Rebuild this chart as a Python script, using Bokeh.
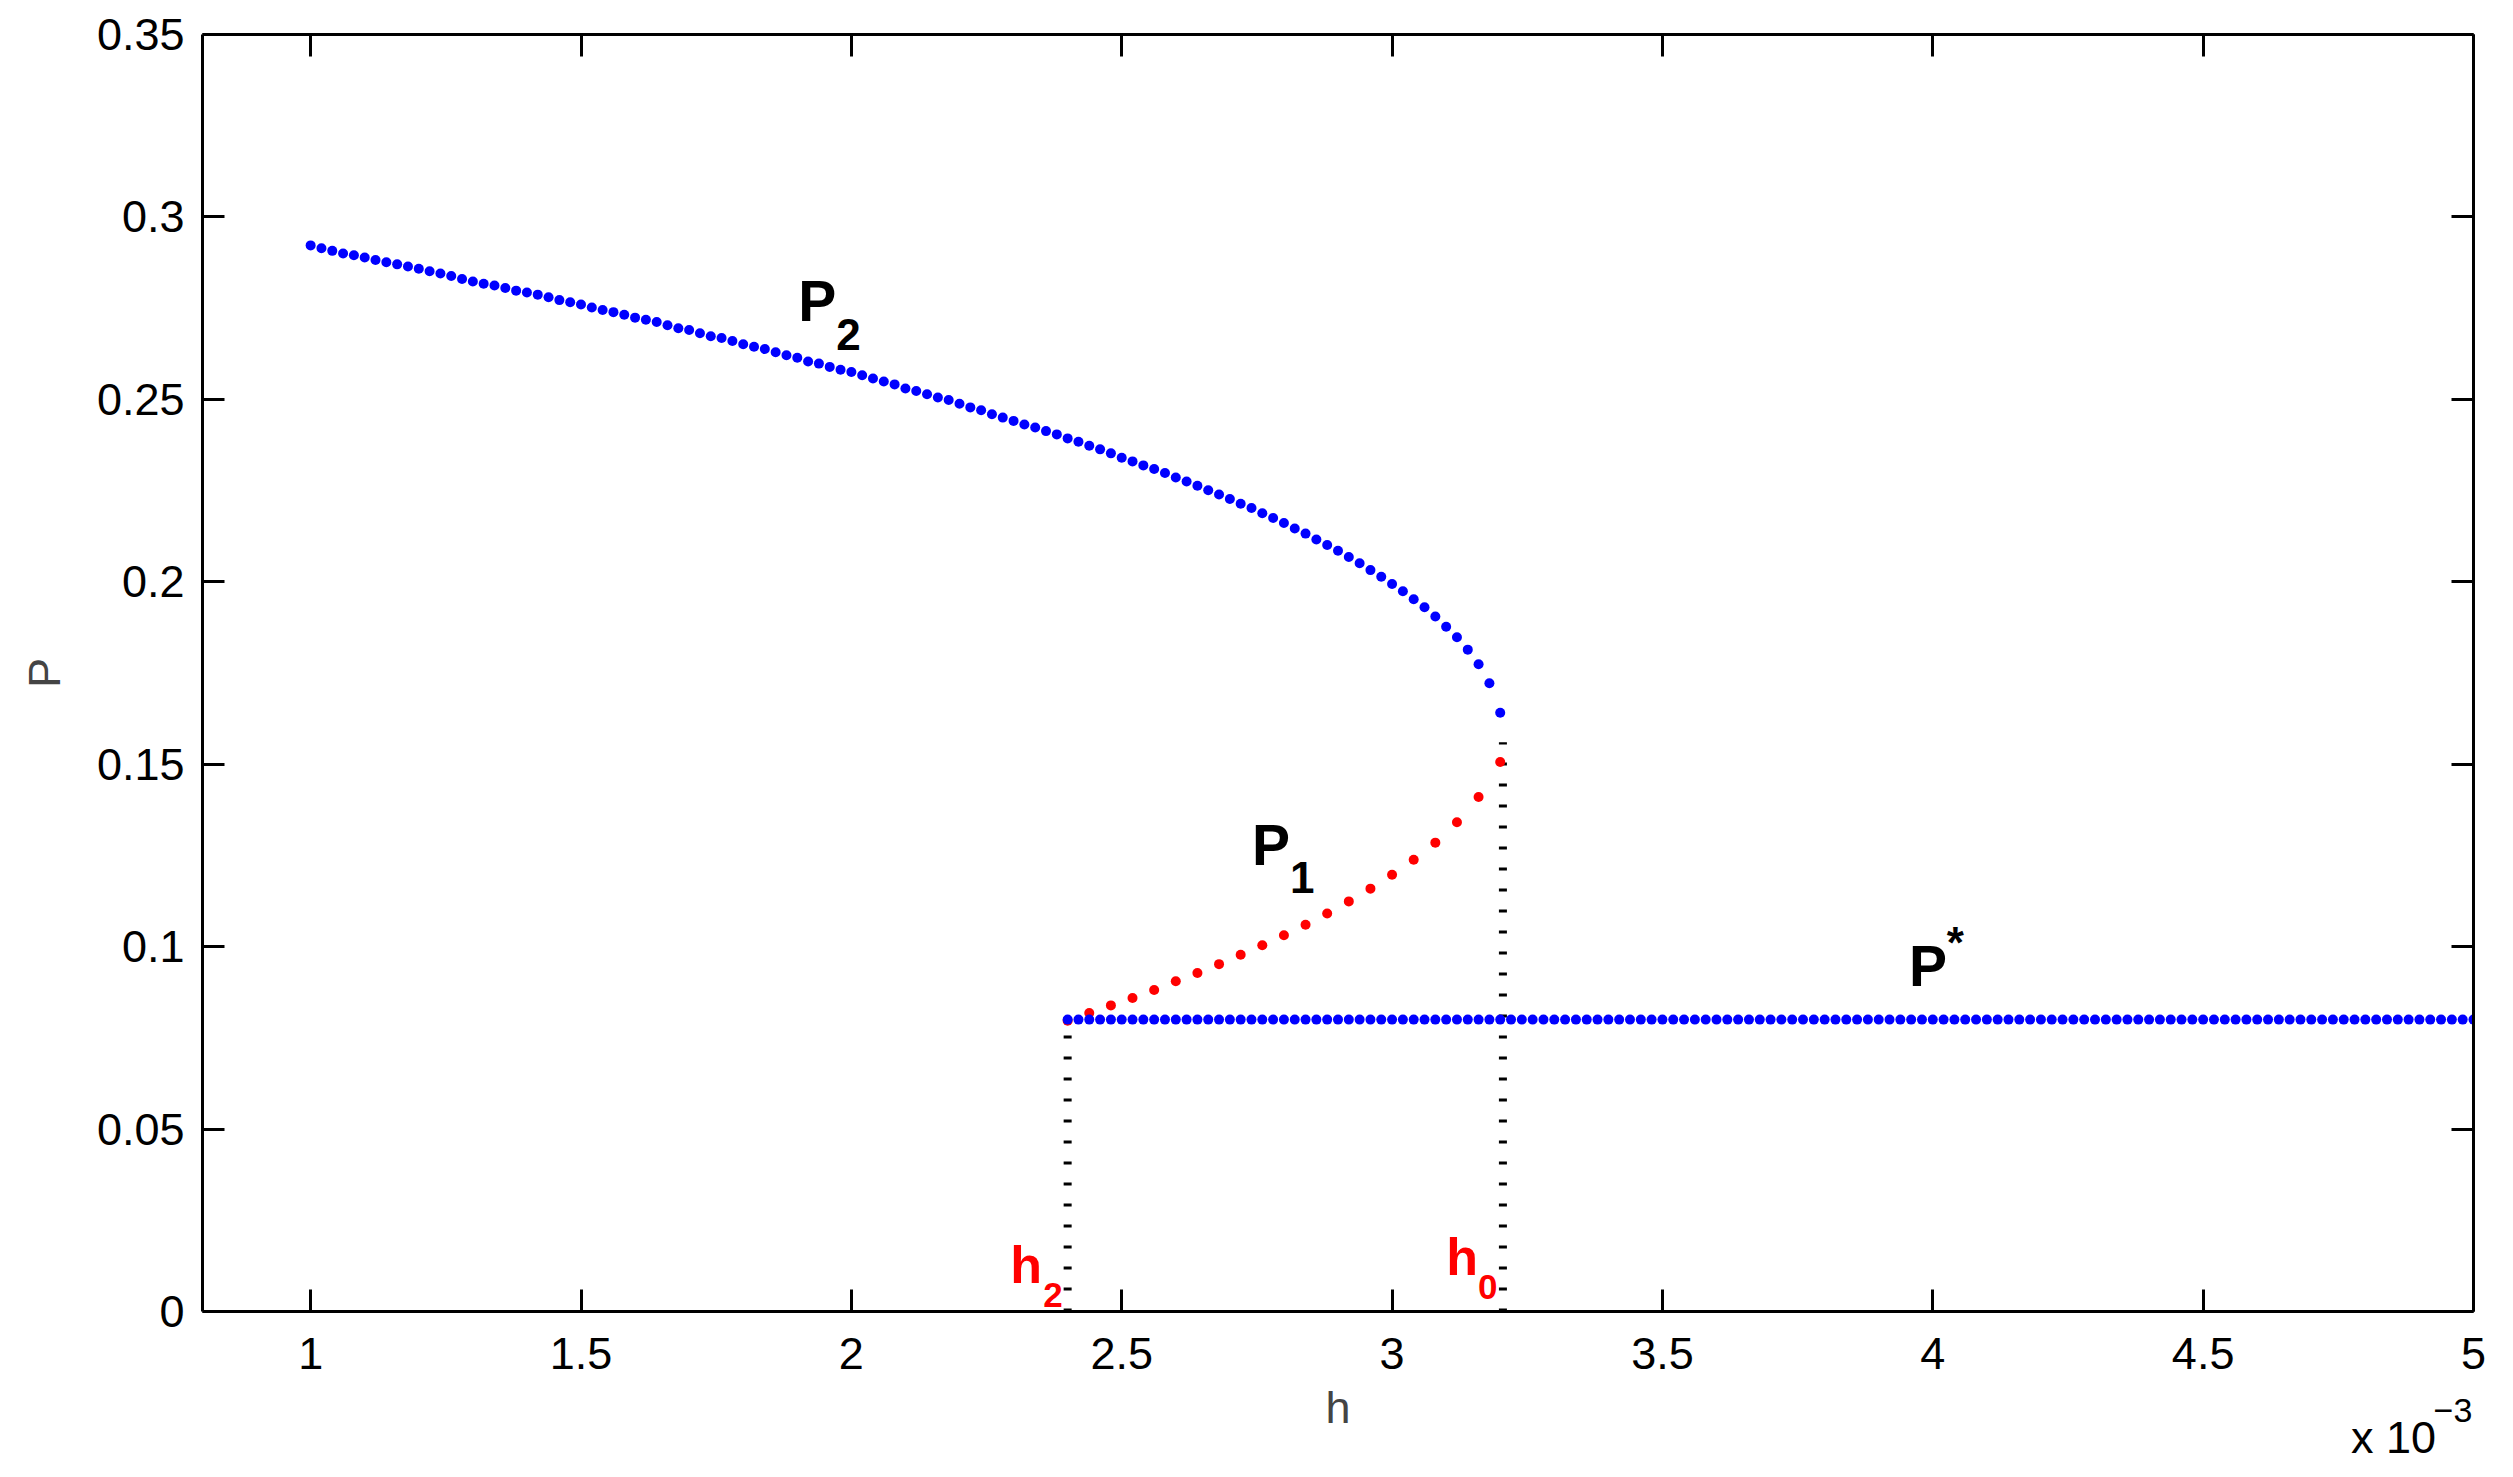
import numpy as np
from bokeh.plotting import figure
from bokeh.models import Range1d, LinearAxis, FixedTicker, CustomJSTickFormatter, Label
from bokeh.embed import file_html
from bokeh.resources import INLINE

# ---------------- data (h in units of 1e-3) ----------------
h_step = 0.02
# upper branch P2 : h = 1.00 ... 3.20
p2_h_start, p2_h_stop = 1.00, 3.20
p2_values = [
    0.2922, 0.2914, 0.2907, 0.2900, 0.2895, 0.2889, 0.2882, 0.2876, 0.2870, 0.2864,
    0.2858, 0.2851, 0.2845, 0.2838, 0.2830, 0.2823, 0.2817, 0.2812, 0.2805, 0.2798,
    0.2793, 0.2787, 0.2780, 0.2772, 0.2766, 0.2760, 0.2752, 0.2745, 0.2739, 0.2732,
    0.2724, 0.2718, 0.2712, 0.2703, 0.2695, 0.2690, 0.2681, 0.2673, 0.2668, 0.2660,
    0.2651, 0.2644, 0.2638, 0.2629, 0.2621, 0.2614, 0.2604, 0.2598, 0.2589, 0.2581,
    0.2575, 0.2566, 0.2557, 0.2549, 0.2541, 0.2530, 0.2523, 0.2514, 0.2505, 0.2498,
    0.2488, 0.2478, 0.2470, 0.2459, 0.2450, 0.2441, 0.2431, 0.2423, 0.2413, 0.2404,
    0.2393, 0.2384, 0.2373, 0.2363, 0.2352, 0.2340, 0.2330, 0.2319, 0.2309, 0.2298,
    0.2286, 0.2275, 0.2263, 0.2251, 0.2239, 0.2227, 0.2214, 0.2202, 0.2188, 0.2175,
    0.2161, 0.2146, 0.2132, 0.2116, 0.2101, 0.2085, 0.2068, 0.2051, 0.2032, 0.2014,
    0.1994, 0.1974, 0.1952, 0.1930, 0.1905, 0.1877, 0.1848, 0.1814, 0.1774, 0.1722,
    0.1641,
]
# middle branch P1 : h = 2.40 ... 3.20, every 0.04
p1_h_start, p1_h_stop, p1_step = 2.40, 3.20, 0.04
p1_values = [
    0.0797, 0.0818, 0.0839, 0.0859, 0.0881, 0.0905, 0.0928, 0.0952, 0.0978, 0.1004,
    0.1031, 0.1060, 0.1091, 0.1124, 0.1159, 0.1197, 0.1238, 0.1285, 0.1341, 0.1410,
    0.1506,
]
# equilibrium P* : h = 2.40 ... 5.00
pstar_h_start, pstar_h_stop = 2.40, 5.00
pstar_value = 0.08

# critical values of h and heights of the dotted markers
h2_value, h2_top = 2.40, 0.08
h0_value, h0_top = 3.205, 0.156

x_tick_values = [1, 1.5, 2, 2.5, 3, 3.5, 4, 4.5, 5]
x_tick_labels = ["1", "1.5", "2", "2.5", "3", "3.5", "4", "4.5", "5"]
y_tick_values = [0, 0.05, 0.1, 0.15, 0.2, 0.25, 0.3, 0.35]
y_tick_labels = ["0", "0.05", "0.1", "0.15", "0.2", "0.25", "0.3", "0.35"]
scale_text, scale_exp = "x 10", "\u22123"

p2_h = np.round(np.arange(p2_h_start, p2_h_stop + 1e-9, h_step), 2)
p1_h = np.round(np.arange(p1_h_start, p1_h_stop + 1e-9, p1_step), 2)
pstar_h = np.round(np.arange(pstar_h_start, pstar_h_stop + 1e-9, h_step), 2)
pstar_values = np.full(len(pstar_h), pstar_value)

# ---------------- figure ----------------
FONT = "Liberation Sans"
BLUE = "#0000ff"
RED = "#ff0000"

p = figure(width=2505, height=1470, output_backend="svg", toolbar_location=None,
           x_range=Range1d(0.8, 5.0), y_range=Range1d(0, 0.35),
           min_border_left=202, min_border_right=32, min_border_top=34, min_border_bottom=159)
p.background_fill_color = "white"
p.border_fill_color = "white"
p.outline_line_color = None
p.xgrid.grid_line_color = None
p.ygrid.grid_line_color = None

LOOKUP = """
  for (let i = 0; i < vals.length; i++) { if (Math.abs(vals[i] - tick) < 1e-9) return labs[i]; }
  return '';
"""
fmt_x = CustomJSTickFormatter(args=dict(vals=x_tick_values, labs=x_tick_labels), code=LOOKUP)
fmt_y = CustomJSTickFormatter(args=dict(vals=y_tick_values, labs=y_tick_labels), code=LOOKUP)
fmt_blank = CustomJSTickFormatter(code="return '';")

def style_axis(ax, show_labels):
    ax.axis_line_width = 3
    ax.axis_line_color = "black"
    ax.major_tick_line_width = 3
    ax.major_tick_line_color = "black"
    ax.major_tick_in = 22
    ax.major_tick_out = 0
    ax.minor_tick_line_color = None
    ax.major_label_text_font = FONT
    ax.major_label_text_color = "black"
    if show_labels:
        ax.major_label_text_font_size = "45px"
    else:
        ax.formatter = fmt_blank
        ax.major_label_text_font_size = "0px"
        ax.major_label_standoff = 0

xa = p.xaxis[0]
xa.ticker = FixedTicker(ticks=x_tick_values)
xa.formatter = fmt_x
style_axis(xa, True)
xa.major_label_standoff = 26
xa.axis_label = "h"
xa.axis_label_text_font = FONT
xa.axis_label_text_font_size = "45px"
xa.axis_label_text_font_style = "normal"
xa.axis_label_standoff = 10

ya = p.yaxis[0]
ya.ticker = FixedTicker(ticks=y_tick_values)
ya.formatter = fmt_y
style_axis(ya, True)
ya.major_label_standoff = 18
ya.axis_label = "P"
ya.axis_label_text_font = FONT
ya.axis_label_text_font_size = "45px"
ya.axis_label_text_font_style = "normal"
ya.axis_label_standoff = 24

top_ax = LinearAxis(ticker=FixedTicker(ticks=x_tick_values))
style_axis(top_ax, False)
p.add_layout(top_ax, "above")
right_ax = LinearAxis(ticker=FixedTicker(ticks=y_tick_values))
style_axis(right_ax, False)
p.add_layout(right_ax, "right")

# "x 10^-3" scale note, drawn as tick labels of two bare axes below the main one
def scale_axis(tick, text, size, standoff):
    ax = LinearAxis(ticker=FixedTicker(ticks=[tick]),
                    formatter=CustomJSTickFormatter(args=dict(txt=text), code="return txt;"))
    ax.axis_line_color = None
    ax.major_tick_line_color = None
    ax.minor_tick_line_color = None
    ax.major_tick_in = 0
    ax.major_tick_out = 0
    ax.major_label_text_font = FONT
    ax.major_label_text_font_size = size
    ax.major_label_text_color = "black"
    ax.major_label_standoff = standoff
    p.add_layout(ax, "below")

scale_axis(4.852, scale_text, "45px", -24)
scale_axis(4.962, scale_exp, "34px", -67)

# dotted markers at h2 and h0
p.segment(x0=[h2_value, h0_value], y0=[0, 0], x1=[h2_value, h0_value], y1=[h2_top, h0_top],
          line_color="black", line_width=8, line_dash="3 18", line_cap="butt")

# branches
p.scatter(p1_h, p1_values, size=10, fill_color=RED, line_color=None)
p.scatter(p2_h, p2_values, size=10, fill_color=BLUE, line_color=None)
p.scatter(pstar_h, pstar_values, size=10, fill_color=BLUE, line_color=None)

def add_label(x, y, text, size, color="black", bold=True):
    p.add_layout(Label(x=x, y=y, text=text, text_font=FONT, text_font_size=size,
                       text_color=color, text_font_style="bold" if bold else "normal",
                       text_align="left", text_baseline="alphabetic"))

add_label(1.902, 0.2769, "P", "57px")
add_label(1.972, 0.2678, "2", "44px")
add_label(2.741, 0.1278, "P", "57px")
add_label(2.811, 0.1190, "1", "44px")
add_label(3.956, 0.0946, "P", "57px")
add_label(4.026, 0.1011, "*", "44px")
add_label(2.294, 0.0128, "h", "52px", RED)
add_label(2.355, 0.0045, "2", "35px", RED)
add_label(3.100, 0.0150, "h", "52px", RED)
add_label(3.159, 0.0067, "0", "35px", RED)

open("out.html", "w").write(file_html(p, INLINE))
